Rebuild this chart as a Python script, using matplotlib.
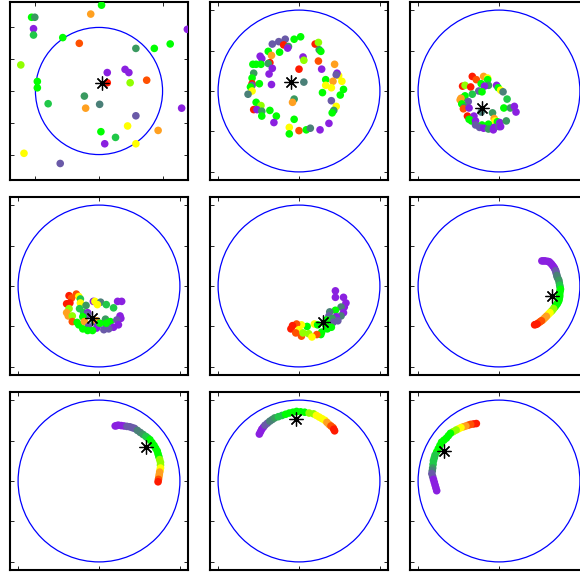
import numpy as np
import matplotlib
matplotlib.use("Agg")
import matplotlib.pyplot as plt
from matplotlib.patches import Circle

# colour index -> colour (red ... purple)
palette = ["#ff1a00", "#ff5000", "#ffa020", "#ffff00", "#90ff00", "#00ff00",
           "#20c848", "#3a9a60", "#4a8078", "#6a5aa8", "#8a20e0"]

# (x, y, colour index) per panel
pts1 = [(0.04, 1.35, 5), (-0.13, 1.21, 2), (-1.06, 1.16, 5), (-1.01, 1.16, 7),
        (-1.03, 0.98, 10), (-1.03, 0.88, 6), (-0.57, 0.84, 5), (-0.31, 0.75, 1),
        (0.58, 0.67, 7), (0.87, 0.67, 5), (1.12, 0.74, 5), (1.39, 0.97, 10),
        (-1.23, 0.41, 4), (0.13, 0.29, 10), (0.41, 0.34, 10), (0.47, 0.29, 10),
        (0.13, 0.13, 0), (0.49, 0.13, 4), (0.75, 0.17, 1), (-0.97, 0.15, 5),
        (-0.97, 0.05, 5), (-0.23, -0.08, 7), (-0.80, -0.20, 6), (0.01, -0.21, 8),
        (-0.21, -0.27, 2), (1.30, -0.27, 10), (0.58, -0.39, 9), (0.45, -0.55, 3),
        (0.93, -0.62, 2), (0.03, -0.64, 5), (0.26, -0.73, 6), (0.09, -0.83, 10),
        (0.58, -0.83, 3), (-1.18, -0.98, 3), (-0.61, -1.14, 9)]

pts2 = [(0.02, 0.67, 5), (-0.06, 0.64, 5), (-0.17, 0.64, 9), (-0.25, 0.61, 9),
        (-0.33, 0.58, 9), (-0.19, 0.57, 0), (-0.13, 0.55, 7), (-0.14, 0.53, 10),
        (-0.38, 0.49, 5), (-0.34, 0.44, 2), (-0.24, 0.48, 5), (-0.48, 0.43, 10),
        (-0.46, 0.40, 10), (-0.57, 0.33, 5), (-0.53, 0.33, 5), (-0.47, 0.33, 5),
        (-0.36, 0.35, 0), (-0.38, 0.34, 7), (-0.33, 0.28, 10), (-0.56, 0.22, 7),
        (-0.58, 0.16, 5), (-0.37, 0.21, 10), (-0.58, 0.09, 0), (-0.58, 0.07, 9),
        (-0.49, 0.09, 5), (-0.60, 0.05, 5), (-0.34, 0.08, 10), (-0.58, 0.00, 3),
        (-0.63, -0.04, 8), (-0.53, -0.14, 5), (-0.47, -0.18, 4), (-0.56, -0.23, 0),
        (-0.52, -0.23, 10), (-0.46, -0.25, 7), (-0.46, -0.31, 5), (-0.36, -0.24, 5),
        (-0.28, -0.31, 5), (-0.31, -0.39, 10), (-0.06, -0.10, 7), (-0.08, -0.14, 2),
        (-0.06, -0.35, 5), (-0.12, -0.45, 3), (-0.12, -0.53, 5), (0.00, -0.49, 1),
        (0.09, -0.48, 5), (0.14, -0.46, 8), (0.26, -0.48, 10), (0.37, -0.40, 10),
        (0.05, 0.42, 10), (0.06, 0.38, 4), (0.00, 0.27, 0), (0.06, 0.11, 8),
        (0.20, 0.58, 0), (0.24, 0.60, 4), (0.25, 0.51, 7), (0.27, 0.49, 5),
        (0.24, 0.37, 1), (0.44, 0.33, 2), (0.28, 0.27, 10), (0.49, 0.19, 3),
        (0.47, 0.22, 10), (0.46, 0.20, 9), (0.33, 0.14, 5), (0.42, 0.12, 2),
        (0.53, 0.12, 3), (0.33, 0.07, 3), (0.40, 0.04, 3), (0.55, 0.02, 5),
        (0.29, -0.02, 5), (0.51, -0.05, 5), (0.40, -0.12, 9), (0.46, -0.19, 3),
        (0.43, -0.24, 7), (0.41, -0.27, 5)]

pts3 = [(-0.33, 0.18, 0), (-0.28, 0.14, 1), (-0.19, 0.18, 2), (-0.14, 0.16, 3),
        (-0.14, 0.14, 5), (-0.13, 0.07, 7), (-0.22, 0.09, 5), (-0.18, 0.06, 10),
        (-0.45, 0.06, 0), (-0.42, 0.07, 4), (-0.35, 0.05, 0), (-0.03, 0.07, 10),
        (-0.01, 0.04, 5), (0.02, 0.01, 3), (0.05, -0.01, 8), (-0.25, 0.00, 9),
        (-0.21, -0.01, 5), (-0.33, -0.04, 6), (-0.42, -0.06, 5), (-0.44, -0.08, 5),
        (-0.47, -0.09, 2), (-0.48, -0.11, 2), (-0.38, -0.13, 9), (-0.46, -0.16, 5),
        (-0.43, -0.20, 7), (-0.44, -0.22, 1), (-0.37, -0.21, 10), (-0.22, -0.26, 8),
        (-0.08, -0.27, 7), (0.10, -0.10, 6), (0.06, -0.21, 5), (0.14, -0.21, 7),
        (0.19, -0.19, 10), (0.21, -0.26, 10), (-0.39, -0.31, 0), (-0.31, -0.31, 10),
        (-0.37, -0.35, 5), (-0.34, -0.37, 5), (-0.29, -0.37, 10), (-0.06, -0.34, 2),
        (-0.05, -0.37, 3), (-0.02, -0.38, 5), (0.01, -0.39, 10), (0.09, -0.37, 7),
        (-0.29, -0.42, 9), (-0.21, -0.42, 5), (-0.13, -0.41, 5), (-0.24, -0.45, 9),
        (-0.19, -0.46, 10), (-0.13, -0.47, 7), (-0.07, -0.48, 10), (-0.06, -0.45, 10),
        (0.00, -0.44, 9), (0.02, -0.44, 10)]

pts4 = [(-0.37, -0.12, 0), (-0.28, -0.10, 1), (-0.25, -0.13, 3), (-0.23, -0.16, 6),
        (-0.34, -0.15, 1), (-0.40, -0.22, 0), (-0.36, -0.21, 0), (-0.23, -0.21, 3),
        (-0.07, -0.19, 10), (-0.05, -0.19, 3), (0.02, -0.20, 8), (-0.02, -0.23, 3),
        (0.09, -0.23, 6), (0.23, -0.19, 10), (0.28, -0.19, 10), (0.18, -0.27, 6),
        (-0.16, -0.24, 7), (-0.24, -0.28, 6), (-0.37, -0.28, 4), (-0.40, -0.33, 2),
        (-0.38, -0.37, 2), (-0.33, -0.37, 4), (-0.19, -0.33, 6), (-0.14, -0.33, 10),
        (-0.14, -0.35, 9), (-0.20, -0.38, 5), (-0.33, -0.44, 1), (-0.27, -0.45, 5),
        (-0.25, -0.48, 5), (-0.18, -0.44, 2), (-0.06, -0.44, 7), (-0.03, -0.43, 2),
        (0.08, -0.41, 7), (0.14, -0.44, 5), (0.26, -0.37, 10), (0.27, -0.40, 10),
        (0.22, -0.42, 9), (0.24, -0.48, 10), (0.18, -0.51, 10), (0.09, -0.48, 10),
        (-0.01, -0.48, 10), (-0.03, -0.52, 10), (-0.13, -0.50, 9), (0.12, -0.53, 9),
        (0.06, -0.54, 9), (-0.20, -0.53, 5), (-0.14, -0.55, 5), (-0.08, -0.55, 5),
        (0.01, -0.46, 5), (0.09, -0.46, 5)]

pts5 = [(0.45, -0.06, 10), (0.45, -0.14, 10), (0.55, -0.14, 10), (0.58, -0.21, 10),
        (0.56, -0.26, 10), (0.52, -0.26, 8), (0.45, -0.30, 5), (0.38, -0.32, 8),
        (0.55, -0.33, 10), (0.52, -0.37, 8), (0.46, -0.38, 10), (0.37, -0.37, 9),
        (0.41, -0.40, 7), (0.48, -0.43, 9), (0.42, -0.45, 9), (0.34, -0.42, 5),
        (0.33, -0.48, 5), (0.40, -0.51, 5), (0.35, -0.53, 5), (0.28, -0.57, 5),
        (0.27, -0.60, 5), (0.22, -0.60, 1), (0.19, -0.47, 3), (0.23, -0.48, 5),
        (0.10, -0.50, 5), (0.03, -0.48, 3), (-0.03, -0.47, 1), (-0.08, -0.49, 0),
        (-0.10, -0.53, 0), (0.00, -0.54, 3), (-0.04, -0.58, 1), (0.03, -0.62, 1),
        (0.05, -0.58, 4), (0.12, -0.59, 4), (0.16, -0.63, 3)]

pts6 = [(0.53, 0.31, 10), (0.55, 0.31, 10), (0.57, 0.31, 10), (0.60, 0.305, 10),
        (0.62, 0.30, 10), (0.635, 0.285, 10), (0.65, 0.27, 10), (0.665, 0.25, 10),
        (0.68, 0.23, 10), (0.69, 0.21, 10), (0.70, 0.19, 9), (0.705, 0.17, 9),
        (0.71, 0.15, 9), (0.715, 0.13, 8), (0.72, 0.11, 8), (0.73, 0.09, 8),
        (0.74, 0.07, 7), (0.745, 0.04, 7), (0.75, 0.01, 6), (0.755, -0.015, 6),
        (0.76, -0.04, 5), (0.755, -0.06, 5), (0.75, -0.08, 5), (0.75, -0.105, 5),
        (0.75, -0.13, 5), (0.745, -0.155, 5), (0.74, -0.18, 5), (0.73, -0.20, 5),
        (0.72, -0.22, 5), (0.705, -0.24, 5), (0.69, -0.26, 5), (0.675, -0.28, 4),
        (0.66, -0.30, 4), (0.645, -0.315, 4), (0.63, -0.33, 3), (0.615, -0.345, 3),
        (0.60, -0.36, 3), (0.585, -0.375, 2), (0.57, -0.39, 2), (0.555, -0.405, 2),
        (0.54, -0.42, 2), (0.525, -0.43, 1), (0.51, -0.44, 1), (0.49, -0.455, 1),
        (0.47, -0.47, 0), (0.455, -0.475, 0), (0.44, -0.48, 0)]

pts7 = [(0.20, 0.68, 10), (0.22, 0.685, 10), (0.24, 0.69, 10), (0.275, 0.685, 10),
        (0.31, 0.68, 10), (0.345, 0.675, 9), (0.38, 0.67, 9), (0.41, 0.66, 9),
        (0.44, 0.65, 9), (0.475, 0.625, 8), (0.51, 0.60, 8), (0.545, 0.575, 7),
        (0.58, 0.55, 6), (0.605, 0.53, 6), (0.63, 0.51, 5), (0.655, 0.475, 5),
        (0.68, 0.44, 5), (0.70, 0.405, 5), (0.72, 0.37, 5), (0.73, 0.335, 5),
        (0.74, 0.30, 5), (0.75, 0.265, 4), (0.76, 0.23, 4), (0.76, 0.195, 4),
        (0.76, 0.16, 3), (0.755, 0.135, 3), (0.75, 0.11, 2), (0.745, 0.08, 2),
        (0.74, 0.05, 2), (0.735, 0.02, 1), (0.73, -0.01, 0)]

pts8 = [(-0.49, 0.58, 10), (-0.475, 0.61, 10), (-0.46, 0.64, 10), (-0.44, 0.665, 10),
        (-0.42, 0.69, 9), (-0.39, 0.715, 9), (-0.36, 0.74, 8), (-0.33, 0.76, 8),
        (-0.30, 0.78, 7), (-0.255, 0.795, 6), (-0.21, 0.81, 6), (-0.165, 0.825, 5),
        (-0.12, 0.84, 5), (-0.075, 0.85, 5), (-0.03, 0.86, 5), (0.02, 0.855, 5),
        (0.07, 0.85, 5), (0.125, 0.84, 4), (0.18, 0.83, 4), (0.215, 0.81, 3),
        (0.25, 0.79, 3), (0.285, 0.77, 3), (0.32, 0.75, 3), (0.345, 0.725, 2),
        (0.37, 0.70, 2), (0.395, 0.68, 1), (0.42, 0.66, 1), (0.43, 0.64, 0),
        (0.44, 0.62, 0)]

pts9 = [(-0.28, 0.71, 0), (-0.315, 0.705, 0), (-0.35, 0.70, 1), (-0.38, 0.69, 1),
        (-0.41, 0.68, 2), (-0.44, 0.67, 2), (-0.47, 0.66, 3), (-0.50, 0.645, 3),
        (-0.53, 0.63, 4), (-0.565, 0.61, 4), (-0.60, 0.59, 5), (-0.625, 0.56, 5),
        (-0.65, 0.53, 5), (-0.68, 0.505, 5), (-0.71, 0.48, 5), (-0.73, 0.44, 5),
        (-0.75, 0.40, 5), (-0.77, 0.36, 5), (-0.79, 0.32, 6), (-0.80, 0.285, 6),
        (-0.81, 0.25, 6), (-0.815, 0.205, 6), (-0.82, 0.16, 7), (-0.825, 0.125, 8),
        (-0.83, 0.09, 9), (-0.82, 0.055, 9), (-0.81, 0.02, 10), (-0.80, -0.015, 10),
        (-0.79, -0.05, 10), (-0.78, -0.085, 10), (-0.77, -0.12, 10)]

panels = [pts1, pts2, pts3, pts4, pts5, pts6, pts7, pts8, pts9]
stars = [(0.04, 0.12), (-0.10, 0.11), (-0.21, -0.21), (-0.09, -0.39), (0.30, -0.45),
         (0.65, -0.12), (0.58, 0.42), (-0.04, 0.77), (-0.68, 0.37)]
limits = [1.4, 1.1, 1.1, 1.1, 1.1, 1.1, 1.1, 1.1, 1.1]

W, H = 580, 572
fig = plt.figure(figsize=(W / 100, H / 100), dpi=100)

col_left = [10, 210, 410]
row_top = [2, 197, 392]
size = 178

for i in range(9):
    r, c = divmod(i, 3)
    ax = fig.add_axes([col_left[c] / W, (H - row_top[r] - size) / H, size / W, size / H])
    p = np.array(panels[i])
    cols = [palette[int(k)] for k in p[:, 2]]
    ax.add_patch(Circle((0, 0), 1, fill=False, ec="#0000ff", lw=0.9))
    ax.scatter(p[:, 0], p[:, 1], s=30, c=cols, edgecolors="none", zorder=3)
    ax.plot(stars[i][0], stars[i][1], marker=(8, 2, 0), ms=10, mew=0.9,
            color="k", ls="none", zorder=5)
    lim = limits[i]
    ax.set_xlim(-lim, lim)
    ax.set_ylim(-lim, lim)
    ax.set_xticks([-1, 0, 1])
    ax.set_yticks([-1, -0.5, 0, 0.5, 1])
    ax.tick_params(direction="in", length=3, width=0.6, top=True, right=True,
                   labelbottom=False, labelleft=False)
    for s in ax.spines.values():
        s.set_linewidth(1.5)

fig.savefig("out.png", dpi=100)
